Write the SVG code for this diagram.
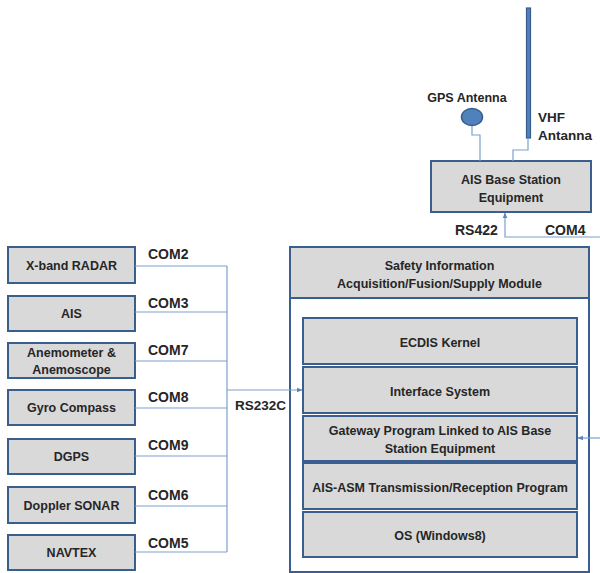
<svg xmlns="http://www.w3.org/2000/svg" width="600" height="573" viewBox="0 0 600 573">
<style>
.box{fill:#d9d9d9;stroke:#3a5f8f;stroke-width:2}
.outer{fill:#ffffff;stroke:#3a5f8f;stroke-width:2}
.t{font-family:"Liberation Sans",Arial,sans-serif;font-weight:bold;font-size:12.5px;fill:#262626;text-anchor:middle}
.l{font-family:"Liberation Sans",Arial,sans-serif;font-weight:bold;font-size:14px;fill:#262626}
.c{fill:none;stroke:#7ba0cd;stroke-width:1.2}
</style>
<defs>
<marker id="ah" viewBox="0 0 10 10" refX="9" refY="5" markerWidth="6" markerHeight="6" orient="auto" markerUnits="userSpaceOnUse">
<path d="M0,1 L10,5 L0,9 z" fill="#5b86bd"/>
</marker>
</defs>
<rect width="600" height="573" fill="#ffffff"/>
<g id="xband"><rect class="box" x="8" y="247" width="127" height="36"/><text class="t" x="71.5" y="269.5">X-band RADAR</text></g>
<g id="ais"><rect class="box" x="8" y="296" width="127" height="35"/><text class="t" x="71.5" y="318">AIS</text></g>
<g id="anemometer"><rect class="box" x="8" y="343" width="127" height="35"/><text class="t" x="71.5" y="356.5">Anemometer &amp;</text><text class="t" x="71.5" y="373.5">Anemoscope</text></g>
<g id="gyro"><rect class="box" x="8" y="390" width="127" height="35"/><text class="t" x="71.5" y="412">Gyro Compass</text></g>
<g id="dgps"><rect class="box" x="8" y="439" width="127" height="35"/><text class="t" x="71.5" y="461">DGPS</text></g>
<g id="doppler"><rect class="box" x="8" y="487" width="127" height="36"/><text class="t" x="71.5" y="510">Doppler SONAR</text></g>
<g id="navtex"><rect class="box" x="8" y="535" width="127" height="35"/><text class="t" x="71.5" y="557">NAVTEX</text></g>
<g id="module">
<rect class="outer" x="290" y="247" width="299" height="325"/>
<rect class="box" x="290" y="247" width="299" height="51"/>
<text class="t" x="439.5" y="269.5">Safety Information</text>
<text class="t" x="439.5" y="287.5">Acquisition/Fusion/Supply Module</text>
</g>
<g id="ecdis"><rect class="box" x="303" y="318" width="274" height="46"/><text class="t" x="440" y="346.5">ECDIS Kernel</text></g>
<g id="interface"><rect class="box" x="303" y="367" width="274" height="46"/><text class="t" x="440" y="395.5">Interface System</text></g>
<g id="gateway"><rect class="box" x="303" y="416" width="274" height="45"/><text class="t" x="440" y="434.5">Gateway Program Linked to AIS Base</text><text class="t" x="440" y="452.5">Station Equipment</text></g>
<g id="aisasm"><rect class="box" x="303" y="463" width="274" height="46"/><text class="t" x="440" y="491.5">AIS-ASM Transmission/Reception Program</text></g>
<g id="os"><rect class="box" x="303" y="512" width="274" height="45"/><text class="t" x="440" y="539.5">OS (Windows8)</text></g>
<g id="aisbase"><rect class="box" x="431" y="161" width="160" height="51"/><text class="t" x="511" y="183.5">AIS Base Station</text><text class="t" x="511" y="201.5">Equipment</text></g>
<g id="gps"><ellipse cx="472" cy="117" rx="10.5" ry="8.5" fill="#4f81bd" stroke="#385d8a" stroke-width="1.5"/><text class="t" x="467" y="101.5">GPS Antenna</text></g>
<g id="vhf"><rect x="526.5" y="8" width="4" height="130" fill="#4f81bd" stroke="#385d8a" stroke-width="1.2"/><text class="l" x="538" y="122" style="font-size:13.5px">VHF</text><text class="l" x="538" y="140" style="font-size:13.5px">Antanna</text></g>
<g id="connectors">
<polyline class="c" points="135,266 227,266"/>
<polyline class="c" points="135,312 227,312"/>
<polyline class="c" points="135,361 227,361"/>
<polyline class="c" points="135,408 227,408"/>
<polyline class="c" points="135,456 227,456"/>
<polyline class="c" points="135,506 227,506"/>
<polyline class="c" points="135,552 227,552"/>
<polyline class="c" points="227,266 227,552"/>
<polyline class="c" points="227,390 302,390" marker-end="url(#ah)"/>
<polyline class="c" points="600,438 578,438" marker-end="url(#ah)"/>
<polyline class="c" points="600,237 505,237 505,213" marker-end="url(#ah)"/>
<polyline class="c" points="472,126 472,135 480,135 480,161"/>
<polyline class="c" points="528,138 528,150 513,150 513,161"/>
</g>
<g id="labels">
<text class="l" x="148" y="259">COM2</text>
<text class="l" x="148" y="308">COM3</text>
<text class="l" x="148" y="355">COM7</text>
<text class="l" x="148" y="402">COM8</text>
<text class="l" x="148" y="450">COM9</text>
<text class="l" x="148" y="500">COM6</text>
<text class="l" x="148" y="548">COM5</text>
<text class="l" x="235" y="410" style="font-size:13.5px">RS232C</text>
<text class="l" x="455" y="235">RS422</text>
<text class="l" x="545" y="235">COM4</text>
</g>
</svg>
